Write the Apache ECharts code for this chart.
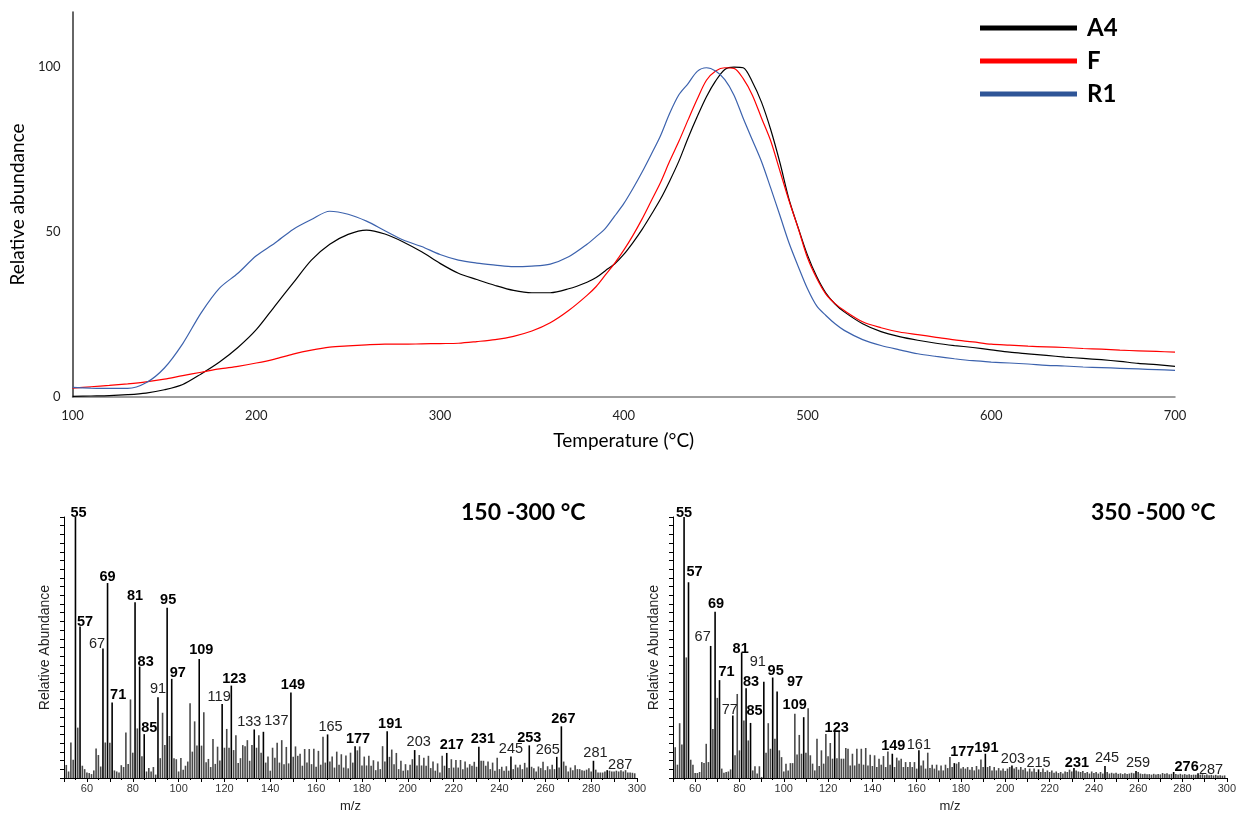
<!DOCTYPE html>
<html>
<head>
<meta charset="utf-8">
<script src="https://cdn.jsdelivr.net/npm/echarts@6/dist/echarts.min.js"></script>
<style>
  html, body { margin: 0; padding: 0; background: #fff; }
  #chart { width: 1239px; height: 814px; }
</style>
</head>
<body>
<div id="chart"></div>
<script>
// Thermogram: temperature (°C) and normalised abundance of each sample
const temperatures = [
  100,110,120,130,140,150,160,170,180,190,200,210,220,230,240,250,260,270,280,290,300,310,320,330,340,350,360,370,380,
  385,390,395,400,405,410,415,420,425,430,435,440,445,450,455,460,465,470,475,480,485,490,495,500,505,510,515,520,
  530,540,550,560,570,580,590,600,610,620,630,640,650,660,670,680,690,700
];
const abundanceA4 = [
  0.2,0.3,0.4,0.7,1.2,2.2,3.8,7.0,10.6,15.0,20.4,27.5,34.5,41.5,46.3,49.3,50.6,49.4,47.0,44.0,40.5,37.5,35.6,33.8,32.3,31.6,31.6,32.8,34.8,
  36.2,38.3,40.3,43.2,46.8,50.8,55.3,60.0,65.5,71.5,78.5,85.0,91.0,95.8,99.3,100,99.8,95.5,89.3,81.0,71.0,59.8,51.2,43.0,36.5,31.5,28.2,25.8,
  22.2,19.8,18.3,17.2,16.3,15.6,15.0,14.3,13.6,13.1,12.6,12.1,11.7,11.3,10.8,10.2,9.8,9.3
];
const abundanceF = [
  2.7,3.1,3.5,4.0,4.6,5.4,6.5,7.5,8.5,9.3,10.3,11.5,13.0,14.2,15.1,15.5,15.8,16.0,16.0,16.1,16.2,16.3,16.8,17.4,18.4,20.0,22.5,26.2,30.8,
  33.5,37.0,40.5,44.5,49.0,54.0,59.5,65.0,71.5,77.5,84.0,90.3,96.0,98.8,99.8,99.6,96.5,91.5,84.5,77.6,68.5,59.4,51.0,42.2,36.0,31.2,28.3,26.2,
  22.8,21.0,19.7,18.9,18.1,17.3,16.7,16.0,15.7,15.4,15.2,15.0,14.7,14.5,14.2,14.0,13.8,13.6
];
const abundanceR1 = [
  2.9,2.7,2.6,2.6,4.3,8.8,16.2,25.5,33.0,37.5,42.8,46.6,50.8,53.8,56.3,55.4,53.3,50.4,47.6,45.6,43.2,41.5,40.6,40.0,39.5,39.7,40.3,42.5,46.3,
  48.6,51.1,54.8,58.6,63.2,68.2,73.6,79.2,86.0,91.6,95.0,98.7,99.8,98.8,96.2,91.5,84.5,77.9,71.3,63.3,55.0,46.6,39.5,32.8,27.6,24.7,22.2,20.2,
  17.4,15.6,14.3,13.1,12.3,11.6,11.0,10.6,10.3,10.0,9.6,9.4,9.1,8.9,8.7,8.5,8.3,8.1
];

// Mass spectra: relative abundance for every integer m/z starting at firstMass
const firstMass = 51;
const spectrum150to300 = [
  5.0,2.5,13.6,7.0,100,19.3,58.0,4.7,3.4,2.1,          // 51-60
  1.9,1.5,2.9,11.3,8.8,4.4,49.6,13.6,74.7,13.5,        // 61-70
  28.9,2.9,2.5,2.1,4.9,4.2,17.4,5.4,30.1,9.7,          // 71-80
  67.3,19.0,42.7,8.3,16.8,2.5,3.8,2.5,4.2,1.3,         // 81-90
  30.9,7.6,25.0,12.6,65.2,16.1,38.0,7.6,7.2,2.5,       // 91-100
  7.7,3.2,4.7,6.3,28.6,10.1,21.7,12.5,45.6,12.4,       // 101-110
  25.2,6.0,7.3,4.2,14.9,5.4,12.0,6.7,28.4,11.6,        // 111-120
  18.8,11.6,35.4,10.7,16.4,5.7,7.6,12.6,12.2,14.5,     // 121-130
  6.6,12.6,18.6,11.6,16.4,9.7,17.7,5.9,8.2,2.8,        // 131-140
  11.6,7.8,13.5,5.9,14.5,5.3,11.9,5.6,32.8,8.1,        // 141-150
  12.1,8.5,9.3,4.7,11.1,5.9,11.1,5.3,11.2,4.3,         // 151-160
  10.4,5.1,15.8,5.9,16.7,6.3,8.2,4.0,10.1,5.1,         // 161-170
  9.1,4.0,8.6,3.7,9.7,5.9,12.2,10.6,12.1,4.8,          // 171-180
  8.2,4.8,8.5,4.7,6.8,3.0,6.3,3.4,12.2,6.3,            // 181-190
  17.9,8.1,10.9,5.3,9.6,3.4,6.6,2.8,5.3,3.0,           // 191-200
  5.1,7.2,10.7,4.8,8.8,4.8,7.8,4.7,8.5,3.8,            // 201-210
  6.3,2.8,5.6,2.1,8.5,4.7,9.6,3.8,7.2,4.0,             // 211-220
  6.9,4.0,6.9,3.4,6.3,4.0,5.3,4.7,6.2,4.3,             // 221-230
  12.0,6.6,6.6,4.7,6.3,3.4,5.9,2.8,7.8,3.4,            // 231-240
  4.3,2.8,4.5,2.8,8.2,3.4,5.1,4.0,5.1,3.4,             // 241-250
  5.8,4.0,12.5,4.3,3.7,2.5,4.4,3.8,6.2,3.0,            // 251-260
  4.5,3.4,5.1,3.4,8.1,4.0,19.8,6.3,4.7,2.5,            // 261-270
  4.0,3.0,4.9,3.4,3.4,3.0,2.8,3.2,3.7,2.5,             // 271-280
  6.6,3.2,2.1,2.1,2.1,2.5,3.0,2.8,2.5,2.5,             // 281-290
  2.8,2.5,3.0,2.5,3.0,2.1,2.1,2.0,1.8                  // 291-299
];
const spectrum350to500 = [
  11.8,5.1,21.0,12.8,100,46.2,75.0,7.0,5.1,1.9,        // 51-60
  1.9,2.3,6.1,5.7,13.1,6.1,50.6,18.8,63.7,30.7,        // 61-70
  37.5,3.6,2.0,2.3,2.5,3.3,23.9,8.7,32.2,10.6,         // 71-80
  48.1,22.0,34.4,14.4,21.1,2.9,4.5,1.7,4.5,0.4,        // 81-90
  36.9,9.7,21.0,11.2,38.5,15.0,33.1,10.6,8.0,2.5,      // 91-100
  5.5,2.9,5.7,5.7,24.6,9.0,16.5,9.3,23.3,9.7,          // 101-110
  26.7,8.7,5.5,2.9,15.0,4.6,10.6,5.5,16.9,8.3,         // 111-120
  13.4,7.4,17.6,7.6,17.6,7.4,7.4,11.5,11.2,4.8,        // 121-130
  9.3,4.8,11.2,5.5,11.2,5.1,11.5,4.8,8.9,4.6,          // 131-140
  8.7,4.2,7.4,5.1,8.4,4.2,10.2,5.1,9.3,4.2,            // 141-150
  7.8,6.7,7.4,4.2,6.1,4.2,6.1,4.2,6.1,3.6,             // 151-160
  10.6,4.8,6.7,3.6,9.7,3.8,5.1,3.6,5.1,2.9,            // 161-170
  4.8,2.9,5.1,3.8,8.0,4.2,5.7,5.5,6.1,3.6,             // 171-180
  4.2,3.6,4.2,3.2,4.2,2.9,4.6,3.3,7.1,4.2,             // 181-190
  9.3,4.2,4.6,2.9,4.2,2.9,3.8,2.9,3.6,2.7,             // 191-200
  3.6,4.2,4.8,3.6,4.2,3.2,4.2,3.2,3.8,2.5,             // 201-210
  3.6,2.5,3.6,2.3,3.3,2.3,3.6,2.3,2.9,2.3,             // 211-220
  2.9,2.0,2.5,1.9,2.3,1.7,2.5,2.3,3.2,2.5,             // 221-230
  3.8,2.9,2.5,2.3,2.7,1.9,2.3,1.7,2.5,1.9,             // 231-240
  2.3,1.7,2.3,1.7,4.6,2.3,1.7,2.0,1.7,2.0,             // 241-250
  1.6,1.8,1.5,1.8,1.5,1.7,2.0,1.8,2.7,2.3,             // 251-260
  1.7,1.5,1.6,1.4,1.5,1.3,1.6,1.3,1.5,1.4,             // 261-270
  1.9,1.6,1.8,1.4,1.6,2.3,1.5,1.3,1.6,1.3,             // 271-280
  1.5,1.2,1.4,1.2,1.3,1.2,1.8,1.3,1.4,1.1,             // 281-290
  1.3,1.1,1.2,1.0,1.2,1.0,1.1,0.9,1.0                  // 291-299
];

// Annotated peaks (bold = characteristic fragments)
const peaks150to300Bold  = [55,57,69,71,81,83,85,95,97,109,123,149,177,191,217,231,253,267];
const peaks150to300Plain = [67,91,119,133,137,165,203,245,265,281,287];
const peaks350to500Bold  = [55,57,69,71,81,83,85,95,97,109,123,149,177,191,231,276];
const peaks350to500Plain = [67,77,91,161,203,215,245,259,287];

// Label nudges [dx, dy] in px so neighbouring annotations do not collide
const nudgeLow = {
  55:[3,3],57:[5,3],67:[-6,3],69:[0,1],71:[6,0],81:[0,1],83:[6,3],85:[5,1],91:[0,-1],95:[1,0],97:[6,2],
  109:[2,-1],119:[-3,1],123:[3,1],133:[-5,0],137:[13,-3],149:[2,0],165:[3,0],177:[3,0],191:[3,0],203:[4,-1],
  217:[5,0],231:[4,0],245:[0,0],253:[0,0],265:[-9,1],267:[2,0],281:[2,0],287:[13,2]
};
const nudgeHigh = {
  55:[0,3],57:[6,-3],67:[-8,-1],69:[1,0],71:[7,-1],77:[-3,2],81:[-1,4],83:[5,1],85:[4,-4],91:[-6,-12],
  95:[3,1],97:[18,-2],109:[-9,-5],123:[2,3],149:[1,0],161:[0,2],177:[8,-4],191:[1,2],203:[1,1],215:[0,1],
  231:[3,2],245:[2,0],259:[2,0],276:[13,3],287:[13,4]
};

const curveFont = 'Lato, "Open Sans", sans-serif';
const msFont = '"Liberation Sans", Arial, sans-serif';

function pairs(xs, ys) { return xs.map((x, i) => [x, ys[i]]); }

function spectrumData(values, boldList, plainList, nudge) {
  return values.map((v, i) => {
    const mz = firstMass + i;
    const bold = boldList.includes(mz);
    const plain = plainList.includes(mz);
    const item = { value: [mz, v] };
    if (bold || plain) {
      item.itemStyle = { color: '#000' };
      item.label = {
        show: true,
        formatter: String(mz),
        fontWeight: bold ? 'bold' : 'normal',
        color: bold ? '#000' : '#222',
        offset: nudge[mz] || [0, 0]
      };
    }
    return item;
  });
}

function spectrumXAxis(gridIndex) {
  return {
    type: 'value', gridIndex, min: 50, max: 300, interval: 10,
    name: 'm/z', nameLocation: 'middle', nameGap: 22,
    nameTextStyle: { fontFamily: msFont, fontSize: 13, color: '#222' },
    axisLine: { show: true, lineStyle: { color: '#000', width: 1 } },
    axisTick: { show: true, length: 4, lineStyle: { color: '#000' } },
    minorTick: { show: true, splitNumber: 2, length: 2, lineStyle: { color: '#000' } },
    axisLabel: {
      fontFamily: msFont, fontSize: 11, color: '#333', margin: 5,
      formatter: v => (v % 20 === 0 ? String(v) : '')
    },
    splitLine: { show: false }
  };
}

function spectrumYAxis(gridIndex) {
  return {
    type: 'value', gridIndex, min: 0, max: 100, interval: 10,
    name: 'Relative Abundance', nameLocation: 'middle', nameGap: 12, nameRotate: 90,
    nameTextStyle: { fontFamily: msFont, fontSize: 14, color: '#222' },
    axisLine: { show: true, lineStyle: { color: '#000', width: 1 } },
    axisTick: { show: true, length: 4, lineStyle: { color: '#000' } },
    minorTick: { show: true, splitNumber: 3, length: 4, lineStyle: { color: '#000' } },
    axisLabel: { show: false },
    splitLine: { show: false }
  };
}

function spectrumSeries(index, values, boldList, plainList, nudge) {
  return {
    type: 'bar', xAxisIndex: index, yAxisIndex: index,
    barWidth: 1.6, silent: true, animation: false,
    itemStyle: { color: '#4a4a4a' },
    label: {
      show: false, position: 'top', distance: 0,
      fontFamily: msFont, fontSize: 14.5
    },
    data: spectrumData(values, boldList, plainList, nudge)
  };
}

const chart = echarts.init(document.getElementById('chart'), null, { renderer: 'canvas' });

chart.setOption({
  animation: false,
  backgroundColor: '#fff',
  title: [
    { text: '150 -300 °C', left: 456, top: 496,
      textStyle: { fontFamily: curveFont, fontWeight: 'bold', fontSize: 23, color: '#000' } },
    { text: '350 -500 °C', left: 1086, top: 496,
      textStyle: { fontFamily: curveFont, fontWeight: 'bold', fontSize: 23, color: '#000' } }
  ],
  legend: {
    data: ['A4', 'F', 'R1'],
    orient: 'vertical', left: 980, top: 16, padding: 0,
    itemWidth: 97, itemHeight: 5, itemGap: 9, icon: 'rect',
    textStyle: { fontFamily: curveFont, fontWeight: 'bold', fontSize: 24, color: '#000', padding: [0, 0, 0, 5] }
  },
  grid: [
    { left: 71, right: 64, top: 12, bottom: 417 },
    { left: 64, right: 602, top: 517, bottom: 33 },
    { left: 673, right: 12, top: 517, bottom: 35 }
  ],
  xAxis: [
    {
      type: 'value', gridIndex: 0, min: 100, max: 700, interval: 100,
      name: 'Temperature (°C)', nameLocation: 'middle', nameGap: 34,
      nameTextStyle: { fontFamily: curveFont, fontSize: 19, color: '#000' },
      axisLine: { show: true, lineStyle: { color: '#7f7f7f', width: 1.5 } },
      axisTick: { show: false },
      axisLabel: { fontFamily: curveFont, fontSize: 13, color: '#222', margin: 12 },
      splitLine: { show: false }
    },
    spectrumXAxis(1),
    spectrumXAxis(2)
  ],
  yAxis: [
    {
      type: 'value', gridIndex: 0, min: 0, max: 116.7, interval: 50,
      name: 'Relative abundance', nameLocation: 'middle', nameGap: 40, nameRotate: 90,
      nameTextStyle: { fontFamily: curveFont, fontSize: 19, color: '#000' },
      axisLine: { show: true, lineStyle: { color: '#333', width: 1.5 } },
      axisTick: { show: false },
      axisLabel: {
        fontFamily: curveFont, fontSize: 13, color: '#222', margin: 12,
        formatter: v => (v % 50 === 0 ? String(v) : '')
      },
      splitLine: { show: false }
    },
    spectrumYAxis(1),
    spectrumYAxis(2)
  ],
  series: [
    { name: 'A4', type: 'line', xAxisIndex: 0, yAxisIndex: 0, showSymbol: false, smooth: 0.3,
      lineStyle: { color: '#000', width: 1.2 }, itemStyle: { color: '#000' },
      data: pairs(temperatures, abundanceA4) },
    { name: 'F', type: 'line', xAxisIndex: 0, yAxisIndex: 0, showSymbol: false, smooth: 0.3,
      lineStyle: { color: '#ff0000', width: 1.2 }, itemStyle: { color: '#ff0000' },
      data: pairs(temperatures, abundanceF) },
    { name: 'R1', type: 'line', xAxisIndex: 0, yAxisIndex: 0, showSymbol: false, smooth: 0.3,
      lineStyle: { color: '#3c62ad', width: 1.2 }, itemStyle: { color: '#2f5597' },
      data: pairs(temperatures, abundanceR1) },
    spectrumSeries(1, spectrum150to300, peaks150to300Bold, peaks150to300Plain, nudgeLow),
    spectrumSeries(2, spectrum350to500, peaks350to500Bold, peaks350to500Plain, nudgeHigh)
  ]
});
</script>
</body>
</html>
